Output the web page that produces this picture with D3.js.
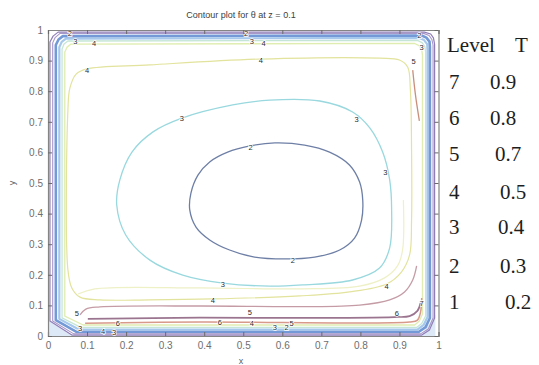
<!DOCTYPE html>
<html><head><meta charset="utf-8">
<script src="https://cdn.jsdelivr.net/npm/d3@7"></script>
<style>body{margin:0;background:#fff}svg{display:block}</style>
</head><body>
<svg id="c" width="539" height="365"></svg>
<script>
// ---------- data (data coordinates x,y in [0,1]) ----------
const xTicks = [0,0.1,0.2,0.3,0.4,0.5,0.6,0.7,0.8,0.9,1];
const yTicks = [0,0.1,0.2,0.3,0.4,0.5,0.6,0.7,0.8,0.9,1];
const legendLevels = ["7","6","5","4","3","2","1"];
const legendT = ["0.9","0.8","0.7","0.5","0.4","0.3","0.2"];

const level2Loop = [[0.517,0.621],[0.581,0.631],[0.657,0.624],[0.721,0.601],[0.772,0.559],[0.798,0.503],[0.806,0.444],[0.803,0.379],[0.785,0.320],[0.747,0.281],[0.683,0.258],[0.606,0.252],[0.529,0.258],[0.465,0.281],[0.414,0.314],[0.379,0.356],[0.363,0.412],[0.366,0.467],[0.384,0.526],[0.414,0.569],[0.460,0.601]];
const level3Loop = [[0.568,0.163],[0.448,0.173],[0.345,0.199],[0.261,0.248],[0.199,0.330],[0.176,0.428],[0.184,0.510],[0.215,0.601],[0.269,0.667],[0.343,0.712],[0.473,0.755],[0.568,0.771],[0.696,0.768],[0.780,0.732],[0.824,0.680],[0.857,0.601],[0.875,0.510],[0.880,0.412],[0.875,0.288],[0.849,0.222],[0.780,0.183],[0.652,0.167]];
const level4Loop = [[0.100,0.873],[0.261,0.886],[0.542,0.905],[0.849,0.908],[0.900,0.902],[0.921,0.879],[0.928,0.804],[0.931,0.608],[0.931,0.379],[0.926,0.265],[0.905,0.209],[0.867,0.170],[0.772,0.144],[0.645,0.131],[0.422,0.121],[0.261,0.118],[0.133,0.118],[0.082,0.127],[0.061,0.157],[0.051,0.216],[0.051,0.739],[0.056,0.810],[0.072,0.856]];
const paleBottomLine = [[0.077,0.137],[0.120,0.154],[0.389,0.157],[0.645,0.154],[0.798,0.163],[0.862,0.190],[0.895,0.229],[0.908,0.281],[0.910,0.444]];
const level5Bottom = [[0.082,0.069],[0.097,0.088],[0.133,0.095],[0.389,0.098],[0.645,0.096],[0.798,0.101],[0.875,0.118],[0.913,0.144],[0.934,0.183],[0.944,0.229]];
const level5Right = [[0.934,0.869],[0.941,0.788],[0.951,0.703]];
const level6Bottom = [[0.102,0.056],[0.389,0.060],[0.645,0.059],[0.887,0.062],[0.926,0.065],[0.946,0.082],[0.954,0.108]];
const salmonBottom = [[0.095,0.042],[0.389,0.046],[0.926,0.046],[0.946,0.052],[0.954,0.078],[0.957,0.124]];
const ringA = [[0.061,0.003],[0.005,0.049],[0.005,0.961],[0.013,0.980],[0.026,0.993],[0.964,0.993],[0.980,0.987],[0.987,0.974],[0.990,0.954],[0.990,0.059],[0.977,0.020],[0.957,0.003]];
const ringB = [[0.066,0.007],[0.012,0.049],[0.012,0.958],[0.018,0.975],[0.031,0.989],[0.962,0.989],[0.976,0.982],[0.983,0.969],[0.986,0.951],[0.986,0.059],[0.974,0.023],[0.954,0.007]];
const ringC = [[0.074,0.013],[0.020,0.052],[0.020,0.951],[0.027,0.969],[0.038,0.980],[0.957,0.982],[0.969,0.975],[0.977,0.962],[0.978,0.944],[0.978,0.059],[0.967,0.029],[0.949,0.013]];
const ringD = [[0.079,0.021],[0.029,0.056],[0.029,0.944],[0.035,0.961],[0.046,0.972],[0.951,0.974],[0.963,0.967],[0.971,0.954],[0.972,0.935],[0.972,0.062],[0.962,0.036],[0.946,0.021]];
const ringE = [[0.084,0.028],[0.036,0.059],[0.036,0.938],[0.041,0.954],[0.051,0.964],[0.946,0.966],[0.958,0.959],[0.965,0.946],[0.967,0.928],[0.967,0.065],[0.957,0.041],[0.944,0.028]];
const ringF = [[0.090,0.036],[0.043,0.065],[0.043,0.928],[0.049,0.944],[0.059,0.954],[0.939,0.956],[0.950,0.949],[0.957,0.936],[0.959,0.918],[0.959,0.072],[0.951,0.049],[0.939,0.036]];
const cornerLeft = [[0,0],[0,0.052],[0.061,0]];
const cornerRight = [[0.955,0],[0.992,0.07],[0.992,0]];

// contour labels: [text, x, y]
const contourLabels = [
  ["2",0.056,0.990],["3",0.070,0.962],["4",0.118,0.956],
  ["2",0.507,0.990],["3",0.522,0.962],["4",0.552,0.956],
  ["4",0.100,0.869],["4",0.545,0.902],
  ["2",0.951,0.984],["3",0.957,0.944],["5",0.936,0.899],
  ["3",0.343,0.712],["3",0.790,0.709],["3",0.864,0.536],
  ["2",0.519,0.618],["2",0.627,0.248],
  ["3",0.448,0.170],["4",0.422,0.118],["4",0.867,0.163],
  ["5",0.074,0.075],["6",0.179,0.042],["3",0.082,0.026],["4",0.141,0.016],["3",0.169,0.013],
  ["6",0.440,0.046],["5",0.517,0.078],["4",0.522,0.042],["3",0.581,0.029],["2",0.611,0.029],["5",0.624,0.042],
  ["6",0.893,0.075],["7",0.957,0.108]
];

// ---------- layout ----------
const x = d3.scaleLinear().domain([0,1]).range([48,438.5]);
const y = d3.scaleLinear().domain([0,1]).range([336,30]);
const svg = d3.select("#c");
const g = svg.append("g");

const lineOpen = d3.line().x(d=>x(d[0])).y(d=>y(d[1])).curve(d3.curveCatmullRom.alpha(0.5));
const lineClosedSmooth = d3.line().x(d=>x(d[0])).y(d=>y(d[1])).curve(d3.curveCatmullRomClosed.alpha(0.5));
const lineClosedLin = d3.line().x(d=>x(d[0])).y(d=>y(d[1])).curve(d3.curveLinearClosed);

// corner fills
[cornerLeft, cornerRight].forEach(p => g.append("path").attr("d", lineClosedLin(p)).attr("fill","#dde9f6"));

const styles = [
  {d: paleBottomLine, gen: lineOpen, c: "#eef0c6", w: 1.2},
  {d: level4Loop, gen: lineClosedSmooth, c: "#e2e39c", w: 1.2},
  {d: level3Loop, gen: lineClosedSmooth, c: "#98d8de", w: 1.3},
  {d: level2Loop, gen: lineClosedSmooth, c: "#6e7fa6", w: 1.3},
  {d: ringF, gen: lineClosedLin, c: "#dfedb0", w: 1.3},
  {d: ringE, gen: lineClosedLin, c: "#c5e6d6", w: 1.3},
  {d: ringD, gen: lineClosedLin, c: "#a5c8ec", w: 2.2},
  {d: ringC, gen: lineClosedLin, c: "#7399d6", w: 2.6},
  {d: ringB, gen: lineClosedLin, c: "#a897c9", w: 1.1},
  {d: ringA, gen: lineClosedLin, c: "#8e7db8", w: 1.2},
  {d: level5Bottom, gen: lineOpen, c: "#c59ca6", w: 1.3},
  {d: salmonBottom, gen: lineOpen, c: "#d8998a", w: 1.5},
  {d: level6Bottom, gen: lineOpen, c: "#9b7590", w: 1.7},
  {d: level5Right, gen: lineOpen, c: "#c8907c", w: 1.3}
];
styles.forEach(s => g.append("path").attr("d", s.gen(s.d)).attr("fill","none")
  .attr("stroke", s.c).attr("stroke-width", s.w).attr("stroke-linejoin","round"));

// contour labels
g.selectAll("text.cl").data(contourLabels).join("text").attr("class","cl")
  .attr("x", d=>x(d[1])).attr("y", d=>y(d[2])).attr("dy","0.35em")
  .attr("text-anchor","middle").attr("font-family","Liberation Sans, Arial, sans-serif")
  .attr("font-size", 7.5).attr("fill","#2a2a2a")
  .attr("stroke","#fff").attr("stroke-width",1.4).attr("paint-order","stroke")
  .text(d=>d[0]);

// axes
const tickFont = "Liberation Sans, Arial, sans-serif";
const axB = g.append("g").attr("transform",`translate(0,${y(0)})`)
  .call(d3.axisBottom(x).tickValues(xTicks).tickSize(-4).tickPadding(6).tickFormat(d3.format("~g")));
const axL = g.append("g").attr("transform",`translate(${x(0)},0)`)
  .call(d3.axisLeft(y).tickValues(yTicks).tickSize(-4).tickPadding(5).tickFormat(d3.format("~g")));
const axT = g.append("g").attr("transform",`translate(0,${y(1)})`)
  .call(d3.axisTop(x).tickValues(xTicks).tickSize(-4).tickFormat(""));
const axR = g.append("g").attr("transform",`translate(${x(1)},0)`)
  .call(d3.axisRight(y).tickValues(yTicks).tickSize(-4).tickFormat(""));
[axB,axL,axT,axR].forEach(a => {
  a.selectAll("path.domain").attr("stroke","#858585").attr("stroke-width",1.2);
  a.selectAll(".tick line").attr("stroke","#6a6a6a");
  a.selectAll("text").attr("font-family",tickFont).attr("font-size",10).attr("fill","#6e6e6e");
});

// title and axis labels
g.append("text").attr("x",241).attr("y",18).attr("text-anchor","middle")
  .attr("font-family",tickFont).attr("font-size",9).attr("fill","#404040")
  .text("Contour plot for θ at z = 0.1");
g.append("text").attr("x",241).attr("y",364).attr("text-anchor","middle")
  .attr("font-family",tickFont).attr("font-size",9).attr("fill","#606060").text("x");
g.append("text").attr("transform","translate(15,183) rotate(-90)").attr("text-anchor","middle")
  .attr("font-family",tickFont).attr("font-size",9).attr("fill","#606060").text("y");

// legend (text table on the right)
const legRowY = [89,125,161,199,234,273,309];
const legTX = [490,490,495,500,498,500,505];
const lf = "Liberation Serif, Times New Roman, serif";
g.append("text").attr("x",447).attr("y",52).attr("font-family",lf).attr("font-size",21).attr("fill","#1e1e1e").text("Level");
g.append("text").attr("x",515).attr("y",52).attr("font-family",lf).attr("font-size",21).attr("fill","#1e1e1e").text("T");
legendLevels.forEach((lv,i) => {
  g.append("text").attr("x",449).attr("y",legRowY[i]).attr("font-family",lf).attr("font-size",21).attr("fill","#1e1e1e").text(lv);
  g.append("text").attr("x",legTX[i]).attr("y",legRowY[i]).attr("font-family",lf).attr("font-size",21).attr("fill","#1e1e1e").text(legendT[i]);
});
</script>
</body></html>
